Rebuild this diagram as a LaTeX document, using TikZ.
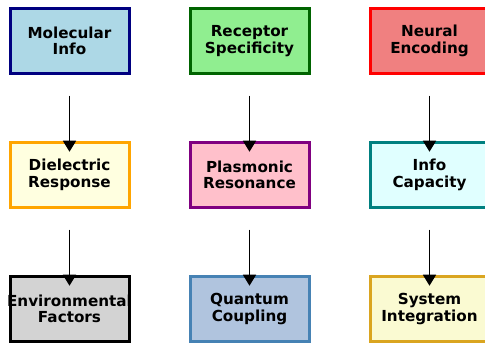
\documentclass[tikz,border=0pt]{standalone}
\usepackage{fontspec}
\setmainfont{DejaVu Sans}
\usetikzlibrary{arrows.meta}
\definecolor{cLightBlue}{RGB}{173,216,230}
\definecolor{cNavy}{RGB}{0,0,128}
\definecolor{cLightGreen}{RGB}{144,238,144}
\definecolor{cDarkGreen}{RGB}{0,100,0}
\definecolor{cLightCoral}{RGB}{240,128,128}
\definecolor{cRed}{RGB}{255,0,0}
\definecolor{cLightYellow}{RGB}{255,255,224}
\definecolor{cOrange}{RGB}{255,165,0}
\definecolor{cPink}{RGB}{255,192,203}
\definecolor{cPurple}{RGB}{128,0,128}
\definecolor{cLightCyan}{RGB}{224,255,255}
\definecolor{cTeal}{RGB}{0,128,128}
\definecolor{cLightGray}{RGB}{211,211,211}
\definecolor{cLightSteel}{RGB}{176,196,222}
\definecolor{cSteel}{RGB}{70,130,180}
\definecolor{cGoldenLight}{RGB}{250,250,210}
\definecolor{cGoldenrod}{RGB}{218,165,32}
\tikzset{
  box/.style={draw, line width=3pt, minimum width=119pt, minimum height=65.5pt,
    inner sep=0pt, outer sep=0pt, align=center,
    font=\fontsize{15.2}{16.5}\selectfont\bfseries},
  arr/.style={-{Triangle[width=13pt,length=11pt]}, line width=1.5pt, black,
    shorten <=22pt, shorten >=-9.5pt}
}
\begin{document}
\begin{tikzpicture}[x=1pt,y=-1pt]
\useasboundingbox (0,0) rectangle (485,347);
\node[box, fill=cLightBlue, draw=cNavy] (mi) at (69.5,41) {Molecular\\Info};
\node[box, fill=cLightGreen, draw=cDarkGreen] (rs) at (249.5,41) {Receptor\\Specificity};
\node[box, fill=cLightCoral, draw=cRed] (ne) at (429.5,41) {Neural\\Encoding};
\node[box, fill=cLightYellow, draw=cOrange] (dr) at (69.5,175) {Dielectric\\Response};
\node[box, fill=cPink, draw=cPurple] (pr) at (249.5,175) {Plasmonic\\Resonance};
\node[box, fill=cLightCyan, draw=cTeal] (ic) at (429.5,175) {Info\\Capacity};
\node[box, fill=cLightGray, draw=black] (ef) at (69.5,309) {\makebox[110pt]{Environmental}\\Factors};
\node[box, fill=cLightSteel, draw=cSteel] (qc) at (249.5,309) {Quantum\\Coupling};
\node[box, fill=cGoldenLight, draw=cGoldenrod] (si) at (429.5,309) {System\\Integration};
\draw[arr] (mi) -- (dr);
\draw[arr] (rs) -- (pr);
\draw[arr] (ne) -- (ic);
\draw[arr] (dr) -- (ef);
\draw[arr] (pr) -- (qc);
\draw[arr] (ic) -- (si);
\end{tikzpicture}
\end{document}
